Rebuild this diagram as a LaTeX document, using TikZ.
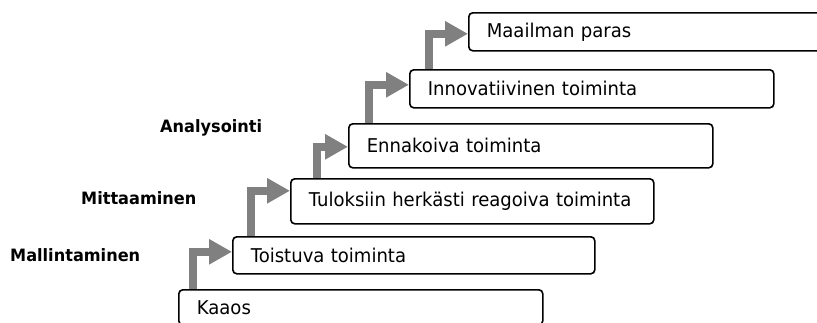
\documentclass[tikz,border=0pt]{standalone}
\usepackage{fontspec}
\setmainfont[FakeStretch=0.95]{DejaVu Sans}
\usetikzlibrary{arrows.meta}
\definecolor{stepgray}{HTML}{808080}
\tikzset{
  stage/.style n args={2}{draw=black, line width=1.6pt, rounded corners=4pt,
    anchor=north west, minimum width=#1, minimum height=#2,
    inner xsep=18pt, inner ysep=0pt, text width=#1-36pt, align=left,
    font=\fontsize{19}{22}\selectfont},
  phase/.style={anchor=west, font=\fontsize{17}{20}\selectfont\bfseries, inner sep=0pt},
  riser/.style={draw=stepgray, line width=8.5pt,
    -{Triangle[width=24pt,length=23pt]}}
}
\begin{document}
\begin{tikzpicture}[x=1pt,y=-1pt]
  \useasboundingbox (0,0) rectangle (817,322);
  \clip (0,0) rectangle (817,322);
  % the steps, from the bottom up
  \node[stage={364pt}{35pt}] (kaaos) at (178,289) {Kaaos};
  \node[stage={362pt}{37pt}] (toistuva) at (232,236) {Toistuva toiminta};
  \node[stage={363pt}{45pt}] (tulos) at (290,178) {Tuloksiin herkästi reagoiva toiminta};
  \node[stage={364pt}{44pt}] (ennakoiva) at (348,123) {Ennakoiva toiminta};
  \node[stage={364pt}{38pt}] (innov) at (409,69) {Innovatiivinen toiminta};
  \node[stage={372pt}{38pt}] (paras) at (468,12) {Maailman paras};
  % phase labels on the left
  \node[phase] (mallinnus) at (10,255) {Mallintaminen};
  \node[phase] (mittaus) at (81,198) {Mittaaminen};
  \node[phase] (analyysi) at (160,128) {Analysointi};
  % risers between the steps
  \draw[riser] ([xshift=15pt]kaaos.north west) |- ([yshift=3.5pt]toistuva.west);
  \draw[riser] ([xshift=19pt]toistuva.north west) |- ([yshift=10.5pt]tulos.west);
  \draw[riser] ([xshift=27pt]tulos.north west) |- ([yshift=-1pt]ennakoiva.west);
  \draw[riser] ([xshift=21pt]ennakoiva.north west) |- ([yshift=4pt]innov.west);
  \draw[riser] ([xshift=20pt]innov.north west) |- ([yshift=-2pt]paras.west);
\end{tikzpicture}
\end{document}
